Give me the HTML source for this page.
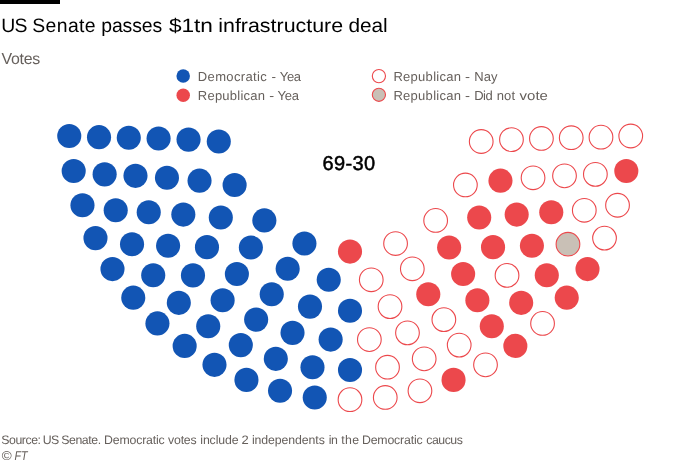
<!DOCTYPE html>
<html><head><meta charset="utf-8"><title>US Senate passes $1tn infrastructure deal</title>
<style>
html,body{margin:0;padding:0;background:#fff;}
body{width:700px;height:463px;position:relative;overflow:hidden;font-family:"Liberation Sans",sans-serif;}
.bar{position:absolute;left:0;top:0;width:60px;height:4px;background:#000;}
svg{position:absolute;left:0;top:0;font-family:"Liberation Sans",sans-serif;text-rendering:geometricPrecision;}
</style></head><body>
<div class="bar"></div>
<svg width="700" height="463" viewBox="0 0 700 463">
<circle cx="183.2" cy="76.1" r="6.75" fill="#1255B4"/>
<circle cx="183.2" cy="95.25" r="6.75" fill="#EC484C"/>
<circle cx="378.9" cy="76.1" r="6.6" fill="#fff" stroke="#EC484C" stroke-width="1.1"/>
<circle cx="378.9" cy="94.8" r="6.6" fill="#C9C0B6" stroke="#EC484C" stroke-width="1.1"/>
<circle cx="69.26" cy="136.01" r="12.05" fill="#1255B4"/>
<circle cx="99.02" cy="137.16" r="12.05" fill="#1255B4"/>
<circle cx="128.77" cy="137.71" r="12.05" fill="#1255B4"/>
<circle cx="158.59" cy="138.47" r="12.05" fill="#1255B4"/>
<circle cx="188.54" cy="139.61" r="12.05" fill="#1255B4"/>
<circle cx="218.78" cy="141.49" r="12.05" fill="#1255B4"/>
<circle cx="73.69" cy="171.06" r="12.05" fill="#1255B4"/>
<circle cx="104.63" cy="174.36" r="12.05" fill="#1255B4"/>
<circle cx="135.49" cy="175.83" r="12.05" fill="#1255B4"/>
<circle cx="82.47" cy="205.27" r="12.05" fill="#1255B4"/>
<circle cx="166.95" cy="177.82" r="12.05" fill="#1255B4"/>
<circle cx="115.71" cy="210.3" r="12.05" fill="#1255B4"/>
<circle cx="199.54" cy="180.67" r="12.05" fill="#1255B4"/>
<circle cx="148.73" cy="212.2" r="12.05" fill="#1255B4"/>
<circle cx="95.48" cy="238.12" r="12.05" fill="#1255B4"/>
<circle cx="132.03" cy="244.19" r="12.05" fill="#1255B4"/>
<circle cx="183.32" cy="214.58" r="12.05" fill="#1255B4"/>
<circle cx="234.61" cy="184.97" r="12.05" fill="#1255B4"/>
<circle cx="112.49" cy="269.08" r="12.05" fill="#1255B4"/>
<circle cx="168.09" cy="245.73" r="12.05" fill="#1255B4"/>
<circle cx="220.8" cy="217.49" r="12.05" fill="#1255B4"/>
<circle cx="153.22" cy="275.27" r="12.05" fill="#1255B4"/>
<circle cx="133.26" cy="297.65" r="12.05" fill="#1255B4"/>
<circle cx="206.97" cy="247.13" r="12.05" fill="#1255B4"/>
<circle cx="192.97" cy="275.38" r="12.05" fill="#1255B4"/>
<circle cx="157.44" cy="323.41" r="12.05" fill="#1255B4"/>
<circle cx="178.81" cy="302.85" r="12.05" fill="#1255B4"/>
<circle cx="264.35" cy="220.42" r="12.05" fill="#1255B4"/>
<circle cx="250.86" cy="247.55" r="12.05" fill="#1255B4"/>
<circle cx="184.66" cy="345.92" r="12.05" fill="#1255B4"/>
<circle cx="236.87" cy="274.06" r="12.05" fill="#1255B4"/>
<circle cx="222.62" cy="300.26" r="12.05" fill="#1255B4"/>
<circle cx="208.22" cy="326.3" r="12.05" fill="#1255B4"/>
<circle cx="214.49" cy="364.85" r="12.05" fill="#1255B4"/>
<circle cx="240.8" cy="345.11" r="12.05" fill="#1255B4"/>
<circle cx="256.15" cy="319.62" r="12.05" fill="#1255B4"/>
<circle cx="271.72" cy="294.18" r="12.05" fill="#1255B4"/>
<circle cx="287.68" cy="268.81" r="12.05" fill="#1255B4"/>
<circle cx="246.45" cy="379.89" r="12.05" fill="#1255B4"/>
<circle cx="304.43" cy="243.56" r="12.05" fill="#1255B4"/>
<circle cx="275.81" cy="358.85" r="12.05" fill="#1255B4"/>
<circle cx="292.52" cy="332.86" r="12.05" fill="#1255B4"/>
<circle cx="280.04" cy="390.81" r="12.05" fill="#1255B4"/>
<circle cx="309.98" cy="306.61" r="12.05" fill="#1255B4"/>
<circle cx="312.49" cy="367.22" r="12.05" fill="#1255B4"/>
<circle cx="328.74" cy="279.81" r="12.05" fill="#1255B4"/>
<circle cx="314.74" cy="397.43" r="12.05" fill="#1255B4"/>
<circle cx="330.64" cy="339.58" r="12.05" fill="#1255B4"/>
<circle cx="350.0" cy="399.64" r="11.85" fill="#fff" stroke="#EC484C" stroke-width="1.1"/>
<circle cx="350.0" cy="370.03" r="12.05" fill="#1255B4"/>
<circle cx="350.0" cy="310.82" r="12.05" fill="#1255B4"/>
<circle cx="350.0" cy="251.59" r="12.05" fill="#EC484C"/>
<circle cx="369.36" cy="339.58" r="11.85" fill="#fff" stroke="#EC484C" stroke-width="1.1"/>
<circle cx="385.26" cy="397.43" r="11.85" fill="#fff" stroke="#EC484C" stroke-width="1.1"/>
<circle cx="371.26" cy="279.81" r="11.85" fill="#fff" stroke="#EC484C" stroke-width="1.1"/>
<circle cx="387.51" cy="367.22" r="11.85" fill="#fff" stroke="#EC484C" stroke-width="1.1"/>
<circle cx="390.02" cy="306.61" r="11.85" fill="#fff" stroke="#EC484C" stroke-width="1.1"/>
<circle cx="419.96" cy="390.81" r="11.85" fill="#fff" stroke="#EC484C" stroke-width="1.1"/>
<circle cx="407.48" cy="332.86" r="11.85" fill="#fff" stroke="#EC484C" stroke-width="1.1"/>
<circle cx="424.19" cy="358.85" r="11.85" fill="#fff" stroke="#EC484C" stroke-width="1.1"/>
<circle cx="395.57" cy="243.56" r="11.85" fill="#fff" stroke="#EC484C" stroke-width="1.1"/>
<circle cx="453.55" cy="379.89" r="12.05" fill="#EC484C"/>
<circle cx="412.32" cy="268.81" r="11.85" fill="#fff" stroke="#EC484C" stroke-width="1.1"/>
<circle cx="428.28" cy="294.18" r="12.05" fill="#EC484C"/>
<circle cx="443.85" cy="319.62" r="11.85" fill="#fff" stroke="#EC484C" stroke-width="1.1"/>
<circle cx="459.2" cy="345.11" r="11.85" fill="#fff" stroke="#EC484C" stroke-width="1.1"/>
<circle cx="485.51" cy="364.85" r="11.85" fill="#fff" stroke="#EC484C" stroke-width="1.1"/>
<circle cx="491.78" cy="326.3" r="12.05" fill="#EC484C"/>
<circle cx="477.38" cy="300.26" r="12.05" fill="#EC484C"/>
<circle cx="515.34" cy="345.92" r="12.05" fill="#EC484C"/>
<circle cx="463.13" cy="274.06" r="12.05" fill="#EC484C"/>
<circle cx="449.14" cy="247.55" r="12.05" fill="#EC484C"/>
<circle cx="435.65" cy="220.42" r="11.85" fill="#fff" stroke="#EC484C" stroke-width="1.1"/>
<circle cx="521.19" cy="302.85" r="12.05" fill="#EC484C"/>
<circle cx="542.56" cy="323.41" r="11.85" fill="#fff" stroke="#EC484C" stroke-width="1.1"/>
<circle cx="507.03" cy="275.38" r="11.85" fill="#fff" stroke="#EC484C" stroke-width="1.1"/>
<circle cx="493.03" cy="247.13" r="12.05" fill="#EC484C"/>
<circle cx="566.74" cy="297.65" r="12.05" fill="#EC484C"/>
<circle cx="546.78" cy="275.27" r="12.05" fill="#EC484C"/>
<circle cx="479.2" cy="217.49" r="12.05" fill="#EC484C"/>
<circle cx="531.91" cy="245.73" r="12.05" fill="#EC484C"/>
<circle cx="587.51" cy="269.08" r="12.05" fill="#EC484C"/>
<circle cx="567.97" cy="244.19" r="11.85" fill="#C9C0B6" stroke="#EC484C" stroke-width="1.1"/>
<circle cx="516.68" cy="214.58" r="12.05" fill="#EC484C"/>
<circle cx="465.39" cy="184.97" r="11.85" fill="#fff" stroke="#EC484C" stroke-width="1.1"/>
<circle cx="604.52" cy="238.12" r="11.85" fill="#fff" stroke="#EC484C" stroke-width="1.1"/>
<circle cx="551.27" cy="212.2" r="12.05" fill="#EC484C"/>
<circle cx="500.46" cy="180.67" r="12.05" fill="#EC484C"/>
<circle cx="584.29" cy="210.3" r="11.85" fill="#fff" stroke="#EC484C" stroke-width="1.1"/>
<circle cx="617.53" cy="205.27" r="11.85" fill="#fff" stroke="#EC484C" stroke-width="1.1"/>
<circle cx="533.05" cy="177.82" r="11.85" fill="#fff" stroke="#EC484C" stroke-width="1.1"/>
<circle cx="564.51" cy="175.83" r="11.85" fill="#fff" stroke="#EC484C" stroke-width="1.1"/>
<circle cx="595.37" cy="174.36" r="11.85" fill="#fff" stroke="#EC484C" stroke-width="1.1"/>
<circle cx="626.31" cy="171.06" r="12.05" fill="#EC484C"/>
<circle cx="481.22" cy="141.49" r="11.85" fill="#fff" stroke="#EC484C" stroke-width="1.1"/>
<circle cx="511.46" cy="139.61" r="11.85" fill="#fff" stroke="#EC484C" stroke-width="1.1"/>
<circle cx="541.41" cy="138.47" r="11.85" fill="#fff" stroke="#EC484C" stroke-width="1.1"/>
<circle cx="571.23" cy="137.71" r="11.85" fill="#fff" stroke="#EC484C" stroke-width="1.1"/>
<circle cx="600.98" cy="137.16" r="11.85" fill="#fff" stroke="#EC484C" stroke-width="1.1"/>
<circle cx="630.74" cy="136.01" r="11.85" fill="#fff" stroke="#EC484C" stroke-width="1.1"/>
<text y="31.7" font-size="19.4" fill="#000"><tspan x="1.18" letter-spacing="-0.713">US</tspan> <tspan x="32.18" letter-spacing="0.403">Senate</tspan> <tspan x="101.2" letter-spacing="-0.094">passes</tspan> <tspan x="168.9" textLength="44.06" lengthAdjust="spacingAndGlyphs">$1tn</tspan> <tspan x="218.24" textLength="124.91" lengthAdjust="spacingAndGlyphs">infrastructure</tspan> <tspan x="348.41" textLength="39.34" lengthAdjust="spacingAndGlyphs">deal</tspan></text>
<text y="64.0" font-size="15.9" fill="#66605C"><tspan x="1.57" letter-spacing="-0.269">Votes</tspan></text>
<text y="80.9" font-size="13" fill="#66605C"><tspan x="197.83" letter-spacing="0.343">Democratic</tspan> <tspan x="271.42" textLength="4.52" lengthAdjust="spacingAndGlyphs">-</tspan> <tspan x="279.75" letter-spacing="-0.294">Yea</tspan></text>
<text y="99.6" font-size="13" fill="#66605C"><tspan x="197.83" letter-spacing="0.231">Republican</tspan> <tspan x="269.37" textLength="4.91" lengthAdjust="spacingAndGlyphs">-</tspan> <tspan x="277.54" letter-spacing="-0.208">Yea</tspan></text>
<text y="80.9" font-size="13" fill="#66605C"><tspan x="393.38" letter-spacing="0.289">Republican</tspan> <tspan x="465.06" textLength="5.03" lengthAdjust="spacingAndGlyphs">-</tspan> <tspan x="474.22" letter-spacing="0.062">Nay</tspan></text>
<text y="99.6" font-size="13" fill="#66605C"><tspan x="393.38" letter-spacing="0.289">Republican</tspan> <tspan x="465.06" textLength="5.03" lengthAdjust="spacingAndGlyphs">-</tspan> <tspan x="474.22" letter-spacing="-0.547">Did</tspan> <tspan x="496.69" letter-spacing="0.186">not</tspan> <tspan x="519.61" textLength="28.31" lengthAdjust="spacingAndGlyphs">vote</tspan></text>
<text y="170.3" font-size="20" fill="#000" stroke="#000" stroke-width="0.5"><tspan x="322.4" letter-spacing="0.423">69-30</tspan></text>
<text y="443.8" font-size="12.3" fill="#66605C"><tspan x="1.19" letter-spacing="-0.421">Source:</tspan> <tspan x="42.81" letter-spacing="-0.735">US</tspan> <tspan x="61.19" letter-spacing="-0.413">Senate.</tspan> <tspan x="103.99" letter-spacing="-0.159">Democratic</tspan> <tspan x="168.11" letter-spacing="-0.225">votes</tspan> <tspan x="200.27" letter-spacing="-0.106">include</tspan> <tspan x="241.41" textLength="7.21" lengthAdjust="spacingAndGlyphs">2</tspan> <tspan x="251.96" letter-spacing="-0.093">independents</tspan> <tspan x="328.66" letter-spacing="-0.49">in</tspan> <tspan x="341.32" letter-spacing="0.317">the</tspan> <tspan x="361.91" letter-spacing="-0.154">Democratic</tspan> <tspan x="426.33" letter-spacing="-0.503">caucus</tspan></text>
<text y="459.6" font-size="12.8" fill="#66605C" font-style="italic"><tspan x="1.42" textLength="10.01" lengthAdjust="spacingAndGlyphs">©</tspan> <tspan x="14.48" textLength="13.08" lengthAdjust="spacingAndGlyphs">FT</tspan></text>
</svg>
</body></html>
